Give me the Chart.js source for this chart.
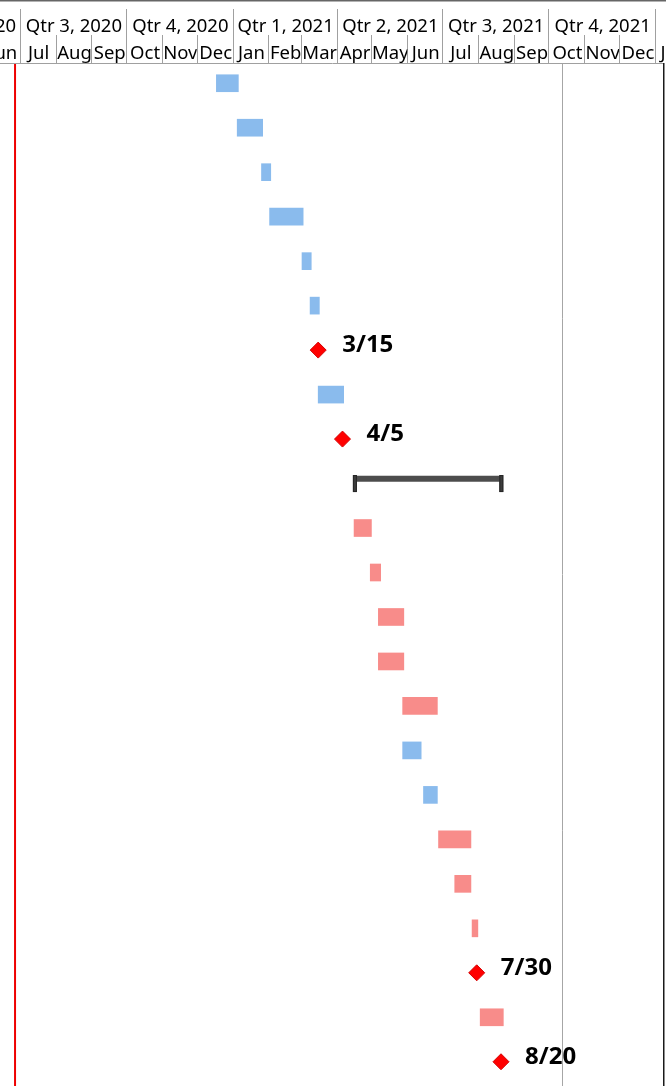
<!DOCTYPE html>
<html>
<head>
<meta charset="utf-8">
<script src="https://cdn.jsdelivr.net/npm/chart.js@4.4.1/dist/chart.umd.min.js"></script>
<style>
  html, body { margin: 0; padding: 0; background: #fff; }
  canvas { display: block; }
</style>
</head>
<body>
<canvas id="chart" width="666" height="1086"></canvas>
<script>
// rows of the schedule, top to bottom
const taskIds = ['1', '2', '3', '4', '5', '6', '7', '8', '9', '10', '11', '12', '13', '14', '15', '16', '17', '18', '19', '20', '21', '22', '23']
const taskKinds = ['blue', 'blue', 'blue', 'blue', 'blue', 'blue', 'milestone', 'blue', 'milestone', 'summary',
  'pink', 'pink', 'pink', 'pink', 'pink', 'blue', 'blue', 'pink', 'pink', 'pink', 'milestone', 'pink', 'milestone']
const taskStarts = ['2020-12-18', '2021-01-05', '2021-01-26', '2021-02-02', '2021-03-02', '2021-03-09', '2021-03-15',
  '2021-03-16', '2021-04-05', '2021-04-15', '2021-04-16', '2021-04-30', '2021-05-07', '2021-05-07', '2021-05-28',
  '2021-05-28', '2021-06-15', '2021-06-28', '2021-07-12', '2021-07-27', '2021-07-30', '2021-08-03', '2021-08-20']
const taskEnds = ['2021-01-06', '2021-01-27', '2021-02-03', '2021-03-03', '2021-03-10', '2021-03-17', '2021-03-15',
  '2021-04-07', '2021-04-05', '2021-08-23', '2021-05-01', '2021-05-09', '2021-05-29', '2021-05-29', '2021-06-27',
  '2021-06-13', '2021-06-27', '2021-07-26', '2021-07-26', '2021-08-01', '2021-07-30', '2021-08-23', '2021-08-20']
const milestoneLabels = ['3/15', '4/5', '7/30', '8/20']

// timescale
const viewStart = '2020-06-14'
const viewEnd = '2022-01-08'
const todayLine = '2020-06-27'
const statusLine = '2021-10-13'
const quarterStarts = ['2020-04-01', '2020-07-01', '2020-10-01', '2021-01-01', '2021-04-01', '2021-07-01', '2021-10-01', '2022-01-01', '2022-04-01']
const quarterLabels = ['Qtr 2, 2020', 'Qtr 3, 2020', 'Qtr 4, 2020', 'Qtr 1, 2021', 'Qtr 2, 2021', 'Qtr 3, 2021', 'Qtr 4, 2021', 'Qtr 1, 2022']
const monthStarts = ['2020-06-01', '2020-07-01', '2020-08-01', '2020-09-01', '2020-10-01', '2020-11-01', '2020-12-01',
  '2021-01-01', '2021-02-01', '2021-03-01', '2021-04-01', '2021-05-01', '2021-06-01', '2021-07-01', '2021-08-01',
  '2021-09-01', '2021-10-01', '2021-11-01', '2021-12-01', '2022-01-01', '2022-02-01']
const monthLabels = ['Jun', 'Jul', 'Aug', 'Sep', 'Oct', 'Nov', 'Dec', 'Jan', 'Feb', 'Mar', 'Apr', 'May', 'Jun',
  'Jul', 'Aug', 'Sep', 'Oct', 'Nov', 'Dec', 'Jan']

const EPOCH = Date.UTC(2020, 6, 1)
function toDay(s) {
  const p = s.split('-').map(Number)
  return (Date.UTC(p[0], p[1] - 1, p[2]) - EPOCH) / 86400000
}

function barsOf(kind) {
  return taskKinds.map((k, i) => k === kind ? [toDay(taskStarts[i]), toDay(taskEnds[i])] : null)
}

// milestones sit at the end of their day
const milestonePoints = []
taskKinds.forEach((k, i) => {
  if (k === 'milestone') milestonePoints.push({ x: toDay(taskStarts[i]) + 1, y: taskIds[i] })
})

const HEADER_H = 63
const FONT = '"Noto Sans", "Open Sans", sans-serif'

const ganttPlugin = {
  id: 'gantt',
  beforeDatasetsDraw(chart) {
    const ctx = chart.ctx
    const x = chart.scales.x
    const area = chart.chartArea
    ctx.save()
    let px = x.getPixelForValue(toDay(statusLine))
    ctx.strokeStyle = '#a6a6a6'
    ctx.lineWidth = 1
    ctx.beginPath()
    ctx.moveTo(Math.round(px) + 0.5, HEADER_H)
    ctx.lineTo(Math.round(px) + 0.5, area.bottom + 2)
    ctx.stroke()
    px = x.getPixelForValue(toDay(todayLine))
    ctx.strokeStyle = '#ee0000'
    ctx.lineWidth = 2
    ctx.beginPath()
    ctx.moveTo(px, HEADER_H)
    ctx.lineTo(px, area.bottom + 2)
    ctx.stroke()
    ctx.restore()
  },
  afterDatasetsDraw(chart) {
    const ctx = chart.ctx
    ctx.save()
    // summary bracket
    const sIdx = chart.data.datasets.findIndex(d => d.label === 'Summary')
    chart.getDatasetMeta(sIdx).data.forEach((el, i) => {
      if (taskKinds[i] !== 'summary') return
      const left = Math.min(el.base, el.x)
      const right = Math.max(el.base, el.x)
      const top = el.y - el.height / 2
      ctx.fillStyle = '#4d4d4d'
      ctx.fillRect(left + 2, top + 0.7, right - left - 4, 6)
      ctx.fillStyle = '#3c3c3c'
      ctx.strokeStyle = '#262626'
      ctx.lineWidth = 1
      ctx.fillRect(left, top, 4, el.height)
      ctx.strokeRect(left + 0.5, top + 0.5, 3, el.height - 1)
      ctx.fillRect(right - 4, top, 4, el.height)
      ctx.strokeRect(right - 3.5, top + 0.5, 3, el.height - 1)
    })
    // milestone labels
    const mIdx = chart.data.datasets.findIndex(d => d.label === 'Milestones')
    ctx.fillStyle = '#000'
    ctx.font = 'bold 24px ' + FONT
    ctx.textBaseline = 'middle'
    ctx.textAlign = 'left'
    chart.getDatasetMeta(mIdx).data.forEach((pt, i) => {
      ctx.fillText(milestoneLabels[i], pt.x + 24, pt.y - 5)
    })
    ctx.restore()
  },
  afterDraw(chart) {
    const ctx = chart.ctx
    const x = chart.scales.x
    const area = chart.chartArea
    ctx.save()
    ctx.fillStyle = '#fff'
    ctx.fillRect(0, 0, chart.width, HEADER_H)
    ctx.beginPath()
    ctx.rect(0, 0, area.right + 1, chart.height)
    ctx.clip()

    function drawRow(starts, labels, lineTop, textY, textRight) {
      ctx.strokeStyle = '#a0a0a0'
      ctx.lineWidth = 1
      for (let i = 0; i < starts.length; i++) {
        const px = Math.round(x.getPixelForValue(toDay(starts[i]))) + 0.5
        ctx.beginPath()
        ctx.moveTo(px, lineTop)
        ctx.lineTo(px, HEADER_H)
        ctx.stroke()
      }
      ctx.fillStyle = '#000'
      ctx.font = '18.5px ' + FONT
      ctx.textAlign = 'center'
      ctx.textBaseline = 'middle'
      for (let i = 0; i < labels.length; i++) {
        const a = x.getPixelForValue(toDay(starts[i]))
        const b = Math.min(x.getPixelForValue(toDay(starts[i + 1])), textRight)
        if (b <= a + 1) continue
        const mid = (a + x.getPixelForValue(toDay(starts[i + 1]))) / 2
        ctx.save()
        ctx.beginPath()
        ctx.rect(a + 1, 0, b - a - 1, HEADER_H)
        ctx.clip()
        ctx.fillText(labels[i], mid + 1, textY)
        ctx.restore()
      }
    }
    drawRow(quarterStarts, quarterLabels, 9, 27, area.right - 5)
    drawRow(monthStarts, monthLabels, 35, 54, area.right + 1)

    // header bottom and top border
    ctx.strokeStyle = '#a0a0a0'
    ctx.lineWidth = 1
    ctx.beginPath()
    ctx.moveTo(0, HEADER_H + 0.5)
    ctx.lineTo(chart.width, HEADER_H + 0.5)
    ctx.stroke()
    ctx.restore()

    ctx.save()
    ctx.fillStyle = '#666'
    ctx.fillRect(0, 0, chart.width, 1.5)
    ctx.fillStyle = '#1a1a1a'
    ctx.fillRect(area.right, HEADER_H, 1.5, chart.height - HEADER_H)
    ctx.restore()
  }
}

const chart = new Chart(document.getElementById('chart'), {
  type: 'bar',
  data: {
    labels: taskIds,
    datasets: [{
      label: 'Tasks A',
      data: barsOf('blue'),
      backgroundColor: '#8abbed',
      indexAxis: 'y',
      grouped: false,
      barThickness: 17
    }, {
      label: 'Tasks B',
      data: barsOf('pink'),
      backgroundColor: '#f88c8a',
      indexAxis: 'y',
      grouped: false,
      barThickness: 17
    }, {
      label: 'Summary',
      data: barsOf('summary'),
      backgroundColor: 'rgba(0,0,0,0)',
      indexAxis: 'y',
      grouped: false,
      barThickness: 17
    }, {
      type: 'scatter',
      label: 'Milestones',
      data: milestonePoints,
      pointStyle: 'rectRot',
      pointRadius: 8,
      backgroundColor: '#ff0000',
      borderColor: '#d40000',
      borderWidth: 1
    }]
  },
  options: {
    responsive: false,
    animation: false,
    indexAxis: 'y',
    layout: { autoPadding: false, padding: { top: 61, bottom: 2, left: 0, right: 3 } },
    plugins: {
      legend: { display: false },
      tooltip: { enabled: false }
    },
    scales: {
      x: {
        type: 'linear',
        min: toDay(viewStart),
        max: toDay(viewEnd),
        display: false
      },
      y: {
        type: 'category',
        offset: true,
        display: false,
        grid: { display: false }
      }
    }
  },
  plugins: [ganttPlugin]
})
</script>
</body>
</html>
